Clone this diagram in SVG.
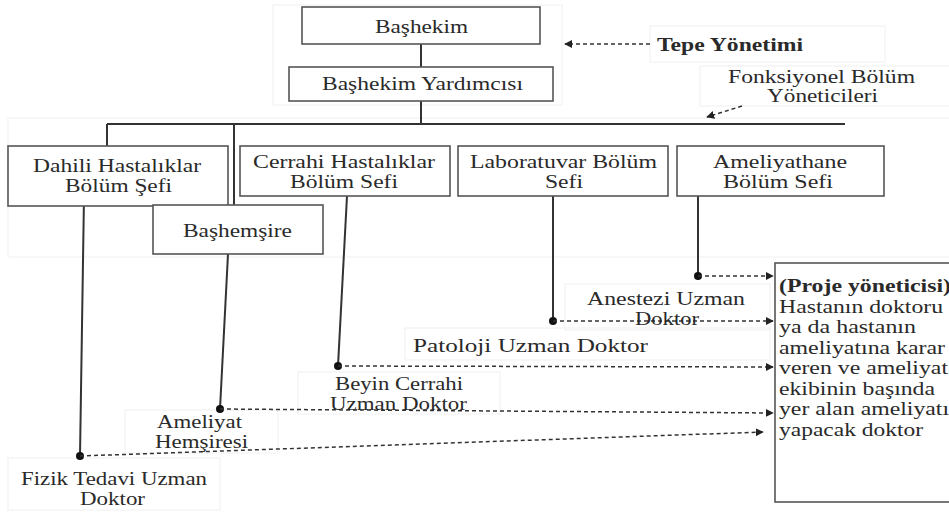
<svg xmlns="http://www.w3.org/2000/svg" width="949" height="513" viewBox="0 0 949 513">
<defs>
<marker id="ah" viewBox="0 0 10 10" refX="9" refY="5" markerWidth="8" markerHeight="8" markerUnits="userSpaceOnUse" orient="auto"><path d="M0,0 L10,5 L0,10 z" fill="#222"/></marker>
<style>
text{font-family:'Liberation Serif','Times New Roman','DejaVu Serif',serif;font-size:18px;fill:#2a2a2a}
.c{text-anchor:middle}
.b{font-weight:bold}
.box{fill:#fff;stroke:#555;stroke-width:1.6}
.faint{fill:none;stroke:#f0f0f0;stroke-width:1}
.ln{stroke:#333;stroke-width:2;fill:none}
.da{stroke:#333;stroke-width:1.5;stroke-dasharray:4 3;fill:none;marker-end:url(#ah)}
.dot{fill:#111}
</style>
</defs>
<rect width="949" height="513" fill="#fff"/>
<g id="background">
<rect class="faint" x="273" y="5" width="289" height="100"/>
<rect class="faint" x="8" y="118" width="945" height="139"/>
<rect class="faint" x="650" y="26" width="235" height="36"/>
<rect class="faint" x="700" y="66" width="255" height="40"/>
<rect class="faint" x="565" y="284" width="205" height="46"/>
<rect class="faint" x="405" y="328" width="365" height="32"/>
<rect class="faint" x="298" y="372" width="202" height="42"/>
<rect class="faint" x="125" y="410" width="153" height="43"/>
<rect class="faint" x="8" y="458" width="212" height="52"/>
</g>
<g id="connectors">
<line class="ln" x1="421" y1="44" x2="421" y2="67"/>
<line class="ln" x1="421" y1="101" x2="421" y2="124"/>
<line class="ln" x1="107" y1="124" x2="845" y2="124"/>
<line class="ln" x1="107" y1="124" x2="107" y2="146"/>
<line class="ln" x1="234" y1="124" x2="234" y2="205"/>
<line class="ln" x1="84" y1="196" x2="80" y2="456"/>
<line class="ln" x1="228" y1="254" x2="220" y2="409"/>
<line class="ln" x1="347" y1="196" x2="338" y2="366"/>
<line class="ln" x1="553" y1="196" x2="553" y2="321"/>
<line class="ln" x1="698" y1="196" x2="698" y2="276"/>
<circle class="dot" cx="80" cy="456" r="4"/>
<circle class="dot" cx="220" cy="409" r="4"/>
<circle class="dot" cx="338" cy="366" r="4"/>
<circle class="dot" cx="553" cy="321" r="4"/>
<circle class="dot" cx="698" cy="276" r="4"/>
<line class="da" x1="698" y1="276" x2="773" y2="276"/>
<line class="da" x1="553" y1="321" x2="773" y2="321"/>
<line class="da" x1="338" y1="366" x2="773" y2="367"/>
<line class="da" x1="220" y1="409" x2="773" y2="413"/>
<line class="da" x1="80" y1="456" x2="763" y2="432"/>
<line class="da" x1="650" y1="44" x2="565" y2="44"/>
<line class="da" x1="742" y1="106" x2="707" y2="117"/>
</g>
<g id="bashekim">
<rect class="box" x="302" y="7" width="238" height="37"/>
<text class="c" x="421.5" y="33" textLength="93" lengthAdjust="spacingAndGlyphs">Başhekim</text>
</g>
<g id="bashekim-yardimcisi">
<rect class="box" x="289" y="67" width="264" height="34"/>
<text class="c" x="422.5" y="90" textLength="201" lengthAdjust="spacingAndGlyphs">Başhekim Yardımcısı</text>
</g>
<g id="tepe-yonetimi">
<text class="b" x="657" y="51" textLength="146" lengthAdjust="spacingAndGlyphs">Tepe Yönetimi</text>
</g>
<g id="fonksiyonel">
<text class="c" x="821.5" y="83" textLength="187" lengthAdjust="spacingAndGlyphs">Fonksiyonel Bölüm</text>
<text class="c" x="822.5" y="102" textLength="111" lengthAdjust="spacingAndGlyphs">Yöneticileri</text>
</g>
<g id="dahili">
<rect class="box" x="8" y="146" width="220" height="60"/>
<text class="c" x="117" y="172" textLength="168" lengthAdjust="spacingAndGlyphs">Dahili Hastalıklar</text>
<text class="c" x="118.5" y="192" textLength="107" lengthAdjust="spacingAndGlyphs">Bölüm Şefi</text>
</g>
<g id="bashemsire">
<rect class="box" x="153" y="205" width="170" height="49"/>
<text class="c" x="237.5" y="237" textLength="109" lengthAdjust="spacingAndGlyphs">Başhemşire</text>
</g>
<g id="cerrahi">
<rect class="box" x="240" y="146" width="210" height="50"/>
<text class="c" x="344" y="168" textLength="182" lengthAdjust="spacingAndGlyphs">Cerrahi Hastalıklar</text>
<text class="c" x="344" y="188" textLength="108" lengthAdjust="spacingAndGlyphs">Bölüm Sefi</text>
</g>
<g id="laboratuvar">
<rect class="box" x="458" y="146" width="210" height="50"/>
<text class="c" x="563.5" y="168" textLength="187" lengthAdjust="spacingAndGlyphs">Laboratuvar Bölüm</text>
<text class="c" x="564" y="188" textLength="38" lengthAdjust="spacingAndGlyphs">Sefi</text>
</g>
<g id="ameliyathane">
<rect class="box" x="677" y="146" width="207" height="50"/>
<text class="c" x="780" y="168" textLength="134" lengthAdjust="spacingAndGlyphs">Ameliyathane</text>
<text class="c" x="778" y="188" textLength="110" lengthAdjust="spacingAndGlyphs">Bölüm Sefi</text>
</g>
<g id="anestezi">
<text class="c" x="666" y="305" textLength="158" lengthAdjust="spacingAndGlyphs">Anestezi Uzman</text>
<text class="c" x="667" y="325" textLength="64" lengthAdjust="spacingAndGlyphs">Doktor</text>
</g>
<g id="patoloji">
<text class="c" x="530.5" y="352" textLength="235" lengthAdjust="spacingAndGlyphs">Patoloji Uzman Doktor</text>
</g>
<g id="beyin-cerrahi">
<text class="c" x="399" y="390" textLength="128" lengthAdjust="spacingAndGlyphs">Beyin Cerrahi</text>
<text class="c" x="398.5" y="410" textLength="137" lengthAdjust="spacingAndGlyphs">Uzman Doktor</text>
</g>
<g id="ameliyat-hemsiresi">
<text class="c" x="199.5" y="428" textLength="85" lengthAdjust="spacingAndGlyphs">Ameliyat</text>
<text class="c" x="201.5" y="448" textLength="93" lengthAdjust="spacingAndGlyphs">Hemşiresi</text>
</g>
<g id="fizik-tedavi">
<text class="c" x="114" y="485" textLength="186" lengthAdjust="spacingAndGlyphs">Fizik Tedavi Uzman</text>
<text class="c" x="112.5" y="505" textLength="65" lengthAdjust="spacingAndGlyphs">Doktor</text>
</g>
<g id="proje-yoneticisi">
<rect class="box" x="775" y="263" width="185" height="239"/>
<text class="b" x="779" y="292" textLength="172" lengthAdjust="spacingAndGlyphs">(Proje yöneticisi)</text>
<text x="779" y="313" textLength="164" lengthAdjust="spacingAndGlyphs">Hastanın doktoru</text>
<text x="779" y="333" textLength="137" lengthAdjust="spacingAndGlyphs">ya da hastanın</text>
<text x="779" y="354" textLength="166" lengthAdjust="spacingAndGlyphs">ameliyatına karar</text>
<text x="779" y="374" textLength="169" lengthAdjust="spacingAndGlyphs">veren ve ameliyat</text>
<text x="779" y="395" textLength="156" lengthAdjust="spacingAndGlyphs">ekibinin başında</text>
<text x="779" y="415" textLength="170" lengthAdjust="spacingAndGlyphs">yer alan ameliyatı</text>
<text x="779" y="436" textLength="144" lengthAdjust="spacingAndGlyphs">yapacak doktor</text>
</g>
</svg>
